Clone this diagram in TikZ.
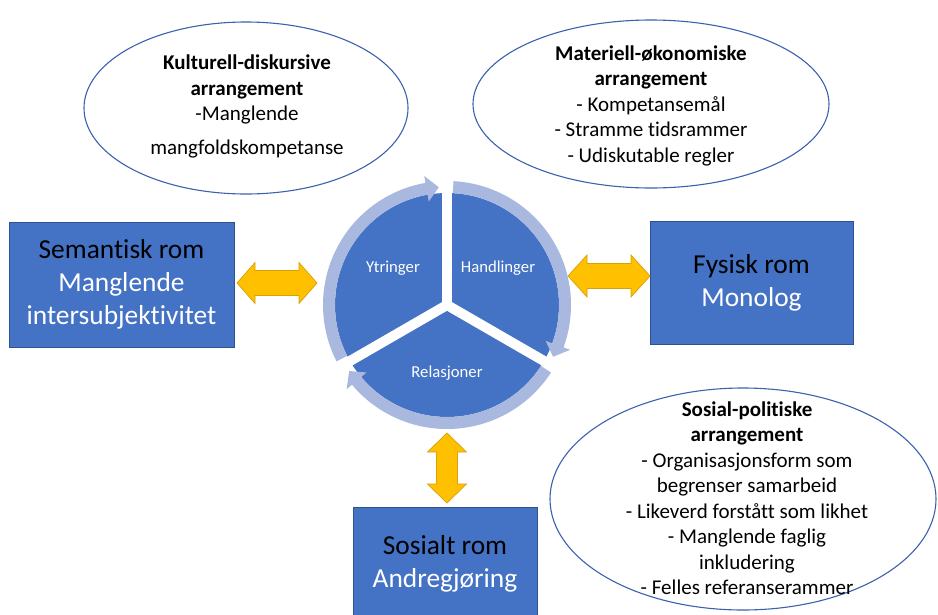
\documentclass[tikz,border=0pt]{standalone}
\usepackage{fontspec}
\setmainfont{Carlito}[Ligatures=NoCommon]
\usetikzlibrary{shapes.geometric}
\definecolor{boxblue}{HTML}{4472C4}
\definecolor{boxedge}{HTML}{2F528F}
\definecolor{ringc}{HTML}{A9B8DE}
\definecolor{yel}{HTML}{FFC000}
\definecolor{yeledge}{HTML}{D6A10A}
\definecolor{elledge}{HTML}{3B62AE}
\begin{document}
\begin{tikzpicture}[x=1pt,y=-1pt,
  ell/.style={ellipse, draw=elledge, line width=1.1pt, fill=white, inner sep=0pt},
  etext/.style={align=center, inner sep=0pt, font=\fontsize{21}{25.5}\selectfont},
  rbox/.style={draw=boxedge, line width=0.8pt, fill=boxblue, align=center, inner sep=0pt,
     font=\fontsize{27.4}{33}\selectfont},
  yarrow/.style={fill=yel, draw=yeledge, line width=0.7pt, line join=miter},
  seclabel/.style={text=white, font=\fontsize{16.7}{20}\selectfont, inner sep=0pt}]
\useasboundingbox (0,0) rectangle (938,614);
\clip (0,0) rectangle (938,614);
\fill[white] (0,0) rectangle (938,614);

% ellipses
\node[ell, minimum width=324pt, minimum height=172pt] (kd) at (246,108) {};
\node[ell, minimum width=356pt, minimum height=168pt] (mo) at (651,104) {};
\node[ell, minimum width=386pt, minimum height=222pt] (sp) at (743,499) {};

\node[etext] (kdt) at (247,106.5) {\textbf{Kulturell-diskursive}\\\textbf{arrangement}\\-Manglende\\[8pt]mangfoldskompetanse};
\node[etext] (mot) at (651,105.5) {\textbf{Materiell-økonomiske}\\\textbf{arrangement}\\- Kompetansemål\\- Stramme tidsrammer\\- Udiskutable regler};
\node[etext] (spt) at (747,498) {\textbf{Sosial-politiske}\\\textbf{arrangement}\\- Organisasjonsform som\\begrenser samarbeid\\- Likeverd forstått som likhet\\- Manglende faglig\\inkludering\\- Felles referanserammer};

% boxes
\node[rbox, minimum width=225pt, minimum height=125pt] (sem) at (121.5,284.5)
  {Semantisk rom\\\textcolor{white}{Manglende}\\\textcolor{white}{intersubjektivitet}};
\node[rbox, minimum width=203pt, minimum height=123pt] (fys) at (751.5,282.5)
  {Fysisk rom\\\textcolor{white}{Monolog}};
\node[rbox, minimum width=184pt, minimum height=113pt] (sos) at (445,563.5)
  {Sosialt rom\\\textcolor{white}{Andregjøring}};

% double arrows
\filldraw[yarrow] (237,283) -- (255,262.5) -- (255,270.5) -- (299,270.5) -- (299,262.5) -- (317,283)
  -- (299,303.5) -- (299,295.5) -- (255,295.5) -- (255,303.5) -- cycle;
\filldraw[yarrow] (568,276) -- (587,255) -- (587,263.5) -- (631,263.5) -- (631,255) -- (650,276)
  -- (631,297) -- (631,288.5) -- (587,288.5) -- (587,297) -- cycle;
\filldraw[yarrow] (447,433) -- (427.5,452) -- (436.5,452) -- (436.5,484) -- (427.5,484) -- (447,503)
  -- (466.5,484) -- (457.5,484) -- (457.5,452) -- (466.5,452) -- cycle;

% cycle
\coordinate (cc) at (447,305);
\begin{scope}[shift={(cc)}, yscale=-1]
  \fill[boxblue] (0,0) circle[radius=112];
  \foreach \a in {90,-30,210} \draw[white, line width=10pt] (0,0) -- (\a:113);
  \foreach \s/\t in {207/94, 87/-26, -33/-146} {
    \pgfmathsetmacro\b{\t+6}
    \fill[ringc] (\s:124) arc[start angle=\s, end angle=\b, radius=124] -- (\b:131) -- (\t:118)
      -- (\b:105) -- (\b:112) arc[start angle=\b, end angle=\s, radius=112] -- cycle;
  }
\end{scope}
\node[seclabel] (yt) at (393,268) {Ytringer};
\node[seclabel] (ha) at (498,268) {Handlinger};
\node[seclabel] (re) at (447,373) {Relasjoner};
\end{tikzpicture}
\end{document}
